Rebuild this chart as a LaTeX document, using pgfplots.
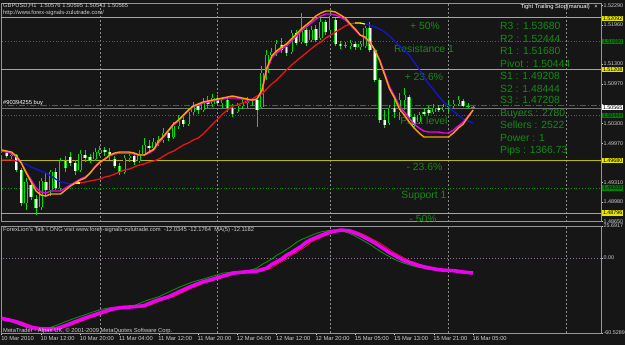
\documentclass[border=0pt]{standalone}
\usepackage{fontspec}
\setmainfont{Liberation Sans}
\usepackage{pgfplots}
\usepackage{pgfplotstable}
\pgfplotsset{compat=1.18}
\definecolor{bg}{RGB}{22,22,22}
\definecolor{framec}{RGB}{150,150,150}
\definecolor{gridc}{RGB}{140,140,140}
\definecolor{tickc}{RGB}{205,205,205}
\definecolor{cndl}{RGB}{0,225,0}
\definecolor{lvl}{RGB}{185,185,10}
\definecolor{lvlbox}{RGB}{230,230,0}
\definecolor{txtg}{RGB}{20,140,20}
\definecolor{dotg}{RGB}{0,150,0}
\definecolor{maor}{RGB}{255,160,0}
\definecolor{mamg}{RGB}{240,0,240}
\definecolor{mard}{RGB}{235,20,20}
\definecolor{mabl}{RGB}{20,20,210}
\definecolor{mayl}{RGB}{255,255,0}
\definecolor{subg}{RGB}{0,150,0}
\definecolor{zeroc}{RGB}{140,115,150}
\definecolor{boxg}{RGB}{0,128,0}
\newcommand\tf{\fontsize{5.8}{6.5}\selectfont}
\newcommand\smf{\fontsize{5.4}{6}\selectfont}
\newcommand\lf{\fontsize{10.4}{12}\selectfont}
\tikzset{lbl/.style={font=\lf, text=txtg, inner sep=0pt, text height=7.5bp, text depth=0bp}}

\pgfplotstableread{
i o h l c
0 1.49771 1.49838 1.49737 1.49804
1 1.49804 1.49838 1.49720 1.49754
2 1.49754 1.49804 1.49703 1.49771
3 1.49771 1.49788 1.49485 1.49519
4 1.49519 1.49552 1.48913 1.48963
5 1.48963 1.49384 1.48845 1.49317
6 1.49266 1.49300 1.49014 1.49064
7 1.49031 1.49098 1.48761 1.48879
8 1.48896 1.49384 1.48845 1.49334
9 1.49317 1.49468 1.49064 1.49182
10 1.49182 1.49519 1.49081 1.49485
11 1.49485 1.49552 1.49182 1.49216
12 1.49216 1.49720 1.49182 1.49670
13 1.49670 1.49754 1.49485 1.49552
14 1.49737 1.49821 1.49586 1.49636
15 1.49636 1.49687 1.49434 1.49502
16 1.49519 1.49855 1.49485 1.49788
17 1.49771 1.49855 1.49653 1.49720
18 1.49737 1.49788 1.49636 1.49687
19 1.49703 1.49888 1.49670 1.49821
20 1.49804 1.49922 1.49754 1.49855
21 1.49855 1.49905 1.49754 1.49821
22 1.49821 1.49888 1.49687 1.49754
23 1.49703 1.49754 1.49552 1.49586
24 1.49586 1.49636 1.49434 1.49485
25 1.49485 1.49771 1.49451 1.49720
26 1.49720 1.49821 1.49653 1.49754
27 1.49754 1.49788 1.49603 1.49653
28 1.49670 1.49855 1.49636 1.49788
29 1.49788 1.50057 1.49754 1.49939
30 1.49922 1.50023 1.49821 1.49888
31 1.49888 1.50057 1.49855 1.49989
32 1.49989 1.50090 1.49922 1.50023
33 1.50023 1.50225 1.49973 1.50141
34 1.50141 1.50191 1.50006 1.50057
35 1.50074 1.50326 1.50040 1.50259
36 1.50259 1.50444 1.50208 1.50360
37 1.50360 1.50410 1.50242 1.50292
38 1.50292 1.50562 1.50259 1.50495
39 1.50495 1.50663 1.50444 1.50595
40 1.50595 1.50646 1.50461 1.50528
41 1.50528 1.50730 1.50495 1.50663
42 1.50663 1.50764 1.50562 1.50629
43 1.50629 1.50797 1.50579 1.50730
44 1.50730 1.50781 1.50595 1.50646
45 1.50646 1.50747 1.50562 1.50696
46 1.50696 1.50747 1.50495 1.50562
47 1.50562 1.50629 1.50410 1.50461
48 1.50495 1.50646 1.50478 1.50595
49 1.50595 1.50696 1.50545 1.50646
50 1.50646 1.50747 1.50562 1.50680
51 1.50680 1.50730 1.50595 1.50696
52 1.50696 1.50730 1.50242 1.50528
53 1.50579 1.51269 1.50545 1.51151
54 1.51151 1.51538 1.51033 1.51454
55 1.51454 1.51571 1.51403 1.51504
56 1.51487 1.51706 1.51437 1.51639
57 1.51622 1.51740 1.51487 1.51538
58 1.51588 1.51639 1.51437 1.51487
59 1.51504 1.51874 1.51471 1.51824
60 1.51824 1.51874 1.51622 1.51656
61 1.51672 1.52160 1.51639 1.51874
62 1.51874 1.51908 1.51605 1.51656
63 1.51706 1.51942 1.51672 1.51874
64 1.51891 1.51958 1.51672 1.51706
65 1.51740 1.52076 1.51706 1.52009
66 1.52009 1.52043 1.51790 1.51841
67 1.51874 1.52194 1.51841 1.52110
68 1.52043 1.52076 1.51605 1.51639
69 1.51639 1.51689 1.51555 1.51605
70 1.51622 1.51672 1.51571 1.51622
71 1.51605 1.51706 1.51555 1.51656
72 1.51639 1.51672 1.51538 1.51588
73 1.51588 1.51689 1.51538 1.51639
74 1.51605 1.51942 1.51571 1.51908
75 1.51908 1.52009 1.51504 1.51538
76 1.51538 1.51571 1.50999 1.51033
77 1.51033 1.51067 1.50309 1.50360
78 1.50360 1.50528 1.50225 1.50276
79 1.50309 1.50612 1.50276 1.50562
80 1.50562 1.50781 1.50393 1.50495
81 1.50495 1.50814 1.50360 1.50696
82 1.50696 1.50898 1.50528 1.50781
83 1.50747 1.50781 1.50377 1.50410
84 1.50410 1.50461 1.50242 1.50276
85 1.50326 1.50495 1.50292 1.50444
86 1.50495 1.50562 1.50427 1.50461
87 1.50528 1.50595 1.50444 1.50478
88 1.50495 1.50629 1.50461 1.50562
89 1.50562 1.50612 1.50495 1.50528
90 1.50528 1.50629 1.50495 1.50579
91 1.50579 1.50696 1.50495 1.50595
92 1.50595 1.50696 1.50562 1.50629
93 1.50629 1.50764 1.50595 1.50696
94 1.50680 1.50713 1.50579 1.50595
95 1.50595 1.50646 1.50562 1.50595
96 1.50576 1.50595 1.50543 1.50565
}\candles

\pgfplotstableread{
i f m s
0 1.49855 1.49838 1.49687
1 1.49838 1.49821 1.49687
2 1.49821 1.49804 1.49687
3 1.49754 1.49737 1.49670
4 1.49636 1.49636 1.49653
5 1.49468 1.49485 1.49619
6 1.49317 1.49350 1.49569
7 1.49165 1.49216 1.49535
8 1.49098 1.49148 1.49502
9 1.49081 1.49132 1.49468
10 1.49115 1.49165 1.49418
11 1.49115 1.49165 1.49367
12 1.49115 1.49165 1.49317
13 1.49182 1.49216 1.49300
14 1.49249 1.49266 1.49283
15 1.49300 1.49317 1.49300
16 1.49350 1.49367 1.49300
17 1.49384 1.49401 1.49317
18 1.49468 1.49468 1.49334
19 1.49569 1.49569 1.49350
20 1.49653 1.49636 1.49367
21 1.49703 1.49703 1.49401
22 1.49771 1.49754 1.49418
23 1.49804 1.49788 1.49451
24 1.49821 1.49804 1.49485
25 1.49821 1.49804 1.49519
26 1.49821 1.49804 1.49535
27 1.49804 1.49788 1.49569
28 1.49771 1.49771 1.49603
29 1.49771 1.49771 1.49619
30 1.49821 1.49804 1.49653
31 1.49872 1.49855 1.49670
32 1.50006 1.49973 1.49703
33 1.50090 1.50074 1.49754
34 1.50191 1.50174 1.49804
35 1.50292 1.50276 1.49838
36 1.50360 1.50343 1.49888
37 1.50444 1.50427 1.49939
38 1.50528 1.50511 1.49973
39 1.50595 1.50579 1.50023
40 1.50629 1.50612 1.50057
41 1.50663 1.50646 1.50124
42 1.50680 1.50663 1.50208
43 1.50696 1.50680 1.50292
44 1.50713 1.50696 1.50377
45 1.50730 1.50713 1.50461
46 1.50747 1.50730 1.50528
47 1.50764 1.50730 1.50595
48 1.50747 1.50730 1.50612
49 1.50730 1.50713 1.50646
50 1.50713 1.50696 1.50663
51 1.50696 1.50696 1.50713
52 1.50713 1.50713 1.50764
53 1.50865 1.50848 1.50797
54 1.51235 1.51201 1.50882
55 1.51437 1.51403 1.50966
56 1.51521 1.51487 1.51033
57 1.51588 1.51555 1.51117
58 1.51639 1.51605 1.51201
59 1.51723 1.51689 1.51285
60 1.51807 1.51773 1.51353
61 1.51891 1.51858 1.51420
62 1.51958 1.51925 1.51487
63 1.52026 1.51992 1.51555
64 1.52110 1.52059 1.51622
65 1.52160 1.52110 1.51672
66 1.52194 1.52144 1.51740
67 1.52194 1.52144 1.51790
68 1.52177 1.52127 1.51841
69 1.52127 1.52093 1.51891
70 1.52076 1.52043 1.51942
71 1.51975 1.51958 1.51975
72 1.51891 1.51874 1.51992
73 1.51790 1.51790 1.51992
74 1.51757 1.51740 1.51975
75 1.51672 1.51656 1.51958
76 1.51538 1.51538 1.51925
77 1.51353 1.51370 1.51891
78 1.51117 1.51151 1.51841
79 1.50882 1.50915 1.51773
80 1.50730 1.50764 1.51689
81 1.50545 1.50595 1.51605
82 1.50444 1.50495 1.51538
83 1.50326 1.50393 1.51454
84 1.50225 1.50292 1.51336
85 1.50141 1.50225 1.51218
86 1.50074 1.50174 1.51084
87 1.50074 1.50158 1.50966
88 1.50074 1.50158 1.50865
89 1.50074 1.50158 1.50764
90 1.50074 1.50141 1.50663
91 1.50074 1.50141 1.50595
92 1.50141 1.50191 1.50511
93 1.50225 1.50259 1.50444
94 1.50292 1.50326 1.50377
95 1.50410 1.50427 1.50343
96 1.50528 1.50528 1.50309
}\lines

\pgfplotstableread{
i m g r
0 -48.7 -49.6 -48.0
1 -49.6 -50.5 -48.7
2 -50.5 -51.5 -49.6
3 -51.5 -53.0 -50.5
4 -53.0 -54.6 -51.5
5 -54.6 -55.9 -53.0
6 -55.9 -56.9 -54.6
7 -56.6 -57.8 -55.9
8 -57.1 -58.3 -56.6
9 -57.3 -58.0 -57.1
10 -57.3 -55.9 -57.3
11 -57.1 -54.5 -57.3
12 -55.9 -53.0 -57.1
13 -54.5 -51.4 -55.9
14 -53.0 -49.9 -54.5
15 -51.4 -48.4 -53.0
16 -49.9 -47.1 -51.4
17 -48.4 -45.8 -49.9
18 -47.1 -44.4 -48.4
19 -45.8 -43.1 -47.1
20 -44.4 -41.8 -45.8
21 -43.1 -40.9 -44.4
22 -41.8 -40.2 -43.1
23 -40.9 -39.8 -41.8
24 -40.2 -39.6 -40.9
25 -39.8 -39.3 -40.2
26 -39.6 -39.0 -39.8
27 -39.3 -38.5 -39.6
28 -39.0 -36.8 -39.3
29 -38.5 -35.1 -39.0
30 -36.8 -33.7 -38.5
31 -35.1 -32.5 -36.8
32 -33.7 -31.3 -35.1
33 -32.5 -29.4 -33.7
34 -31.3 -27.6 -32.5
35 -29.4 -25.7 -31.3
36 -27.6 -23.9 -29.4
37 -25.7 -22.3 -27.6
38 -23.9 -20.7 -25.7
39 -22.3 -19.3 -23.9
40 -20.7 -18.2 -22.3
41 -19.3 -17.1 -20.7
42 -18.2 -15.9 -19.3
43 -17.1 -14.7 -18.2
44 -15.9 -13.6 -17.1
45 -14.7 -12.3 -15.9
46 -13.6 -11.9 -14.7
47 -12.3 -11.5 -13.6
48 -11.9 -11.2 -12.3
49 -11.5 -10.9 -11.9
50 -11.2 -10.6 -11.5
51 -10.9 -9.4 -11.2
52 -10.6 -8.2 -10.9
53 -9.4 -5.3 -10.6
54 -8.2 -3.2 -9.4
55 -5.3 -1.0 -8.2
56 -3.2 2.1 -5.3
57 -1.0 4.2 -3.2
58 2.1 6.8 -1.0
59 4.2 9.3 2.1
60 6.8 12.5 4.2
61 9.3 14.7 6.8
62 12.5 16.3 9.3
63 14.7 18.0 12.5
64 16.3 19.6 14.7
65 18.0 20.9 16.3
66 19.6 21.6 18.0
67 20.9 22.4 19.6
68 21.6 22.6 20.9
69 22.4 22.0 21.6
70 22.1 21.0 22.4
71 21.6 19.5 22.1
72 20.0 17.6 21.6
73 18.4 15.4 20.0
74 16.3 13.1 18.4
75 14.2 10.8 16.3
76 12.1 8.2 14.2
77 9.5 5.6 12.1
78 6.9 3.1 9.5
79 4.2 1.0 6.9
80 2.1 -1.2 4.2
81 -0.1 -2.9 2.1
82 -2.2 -4.3 -0.1
83 -3.6 -5.6 -2.2
84 -4.9 -6.8 -3.6
85 -6.3 -7.6 -4.9
86 -7.2 -8.4 -6.3
87 -8.0 -9.2 -7.2
88 -8.8 -9.7 -8.0
89 -9.5 -10.0 -8.8
90 -9.9 -10.2 -9.5
91 -10.1 -10.4 -9.9
92 -10.3 -10.7 -10.1
93 -10.8 -11.2 -10.3
94 -11.4 -11.7 -10.8
95 -11.8 -11.95 -11.4
96 -12.1182 -12.0345 -12.1764
}\subdata

\begin{document}
\begin{tikzpicture}
\useasboundingbox (0,0) rectangle (625bp,345bp);
\fill[bg] (0,0) rectangle (625bp,345bp);

% ---------------- main price window ----------------
\begin{axis}[
  at={(1bp,123.36bp)}, anchor=south west,
  width=600bp, height=218.64bp, scale only axis,
  xmin=-0.14, xmax=122.06, ymin=1.4865, ymax=1.52329,
  axis line style={draw=framec, line width=0.8bp},
  scaled y ticks=false,
  xtick={20,44,67,91,115}, xticklabels={}, xmajorgrids, xtick style={draw=none},
  major grid style={draw=gridc, line width=0.6bp, dash pattern=on 2bp off 2bp},
  ytick={1.4865,1.4898,1.4931,1.4997,1.5030,1.5063,1.5097,1.5130,1.5196,1.5229},
  yticklabels={1.48650,1.48980,1.49310,1.49970,1.50300,{},1.50970,1.51300,1.51960,1.52290},
  ytick pos=right, yticklabel pos=right, tick align=outside, major tick length=2bp,
  ytick style={draw=tickc, line width=0.5bp},
  yticklabel style={font=\smf, text=tickc, anchor=west, inner sep=0pt, xshift=0.4bp},
]
% level lines
\addplot[lvl, line width=0.9bp] coordinates {(-1,1.52092) (123,1.52092)};
\addplot[lvl, line width=0.9bp] coordinates {(-1,1.51208) (123,1.51208)};
\addplot[lvl, line width=0.9bp] coordinates {(-1,1.49680) (123,1.49680)};
\addplot[lvl, line width=0.9bp] coordinates {(-1,1.48796) (123,1.48796)};
\addplot[dotg, line width=0.6bp, dash pattern=on 0.8bp off 2bp] coordinates {(-1,1.51680) (123,1.51680)};
\addplot[dotg, line width=0.6bp, dash pattern=on 0.8bp off 2bp] coordinates {(-1,1.50444) (123,1.50444)};
\addplot[dotg, line width=0.6bp, dash pattern=on 0.8bp off 2bp] coordinates {(-1,1.49208) (123,1.49208)};
\addplot[dotg, line width=0.7bp, dash pattern=on 6bp off 2bp on 1bp off 2bp] coordinates {(-1,1.50605) (123,1.50605)};
\addplot[gridc!120, line width=0.6bp] coordinates {(-1,1.50565) (123,1.50565)};
% level texts (behind candles)
\node[lbl] at (axis cs:86.2,1.51947) {+ 50\%};
\node[lbl] at (axis cs:86.0,1.51566) {Resistance 1};
\node[lbl] at (axis cs:86.0,1.51089) {+ 23.6\%};
\node[lbl] at (axis cs:86.0,1.50348) {Pivot level};
\node[lbl] at (axis cs:86.1,1.49574) {- 23.6\%};
\node[lbl] at (axis cs:86.0,1.49098) {Support 1};
\node[lbl] at (axis cs:85.8,1.48706) {- 50\%};
% candles: wicks, outlines, bodies
\addplot[cndl, line width=0.9bp, quiver={u=0, v=\thisrow{h}-\thisrow{l}}]
  table[x=i, y=l] \candles;
\addplot[cndl, line width=3.5bp, quiver={u=0, v={abs(\thisrow{o}-\thisrow{c})+0.00012}}]
  table[x=i, y expr={min(\thisrow{o},\thisrow{c})-0.00006}] \candles;
\addplot[bg, line width=1.9bp, restrict expr to domain={\thisrow{c}-\thisrow{o}}{0.00013:1},
  quiver={u=0, v={\thisrow{c}-\thisrow{o}-0.00012}}]
  table[x=i, y expr={\thisrow{o}+0.00006}] \candles;
\addplot[white, line width=1.9bp, restrict expr to domain={\thisrow{o}-\thisrow{c}}{0.00013:1},
  quiver={u=0, v={\thisrow{o}-\thisrow{c}-0.00012}}]
  table[x=i, y expr={\thisrow{c}+0.00006}] \candles;
% slow line, coloured by direction
\addplot[mard, line width=1.3bp, restrict x to domain=0:3] table[x=i,y=s] \lines;
\addplot[mabl, line width=1.3bp, restrict x to domain=3:15] table[x=i,y=s] \lines;
\addplot[mayl, line width=1.3bp, restrict x to domain=15:16] table[x=i,y=s] \lines;
\addplot[mard, line width=1.3bp, restrict x to domain=16:72] table[x=i,y=s] \lines;
\addplot[mayl, line width=1.3bp, restrict x to domain=72:74] table[x=i,y=s] \lines;
\addplot[mabl, line width=1.3bp, restrict x to domain=74:96] table[x=i,y=s] \lines;
% fast lines
\addplot[mamg, line width=1.4bp] table[x=i,y=m] \lines;
\addplot[maor, line width=1.4bp] table[x=i,y=f] \lines;
\end{axis}

% ---------------- indicator window ----------------
\begin{axis}[
  at={(1bp,12bp)}, anchor=south west,
  width=600bp, height=107bp, scale only axis,
  xmin=-0.14, xmax=122.06, ymin=-60.5289, ymax=25.6917,
  axis line style={draw=framec, line width=0.8bp},
  scaled y ticks=false,
  xtick={0,8,...,96},
  xticklabels={10 Mar 2010,10 Mar 12:00,10 Mar 20:00,11 Mar 04:00,11 Mar 12:00,11 Mar 20:00,12 Mar 04:00,12 Mar 12:00,12 Mar 20:00,15 Mar 05:00,15 Mar 13:00,15 Mar 21:00,16 Mar 05:00},
  xtick pos=bottom, tick align=outside, major tick length=2bp,
  xtick style={draw=tickc, line width=0.5bp},
  xticklabel style={font=\tf, text=tickc, anchor=north west, inner sep=0pt, yshift=-1.2bp, xshift=-0.6bp},
  extra x ticks={20,44,67,91,115}, extra x tick labels={},
  extra x tick style={grid=major, major tick length=0pt},
  major grid style={draw=gridc, line width=0.6bp, dash pattern=on 2bp off 2bp},
  ytick={-60.5289,0,25.6917}, yticklabels={-60.5289,0.00,25.6917},
  ytick pos=right, yticklabel pos=right,
  ytick style={draw=tickc, line width=0.5bp},
  yticklabel style={font=\smf, text=tickc, anchor=west, inner sep=0pt, xshift=0.4bp},
]
\addplot[zeroc, line width=0.6bp, dash pattern=on 1bp off 2bp] coordinates {(-1,0) (123,0)};
\addplot[mard, line width=0.7bp] table[x=i,y=r] \subdata;
\addplot[subg, line width=0.9bp] table[x=i,y=g] \subdata;
\addplot[mamg, line width=3.6bp] table[x=i,y=m] \subdata;
\end{axis}

% ---------------- texts ----------------
\begin{scope}[every node/.style={inner sep=0pt, font=\tf}]
\node[anchor=west, text=tickc] at (3bp,339bp) {GBPUSD,H1\ \ 1.50576 1.50595 1.50543 1.50565};
\node[anchor=west, text=tickc] at (3bp,331.7bp) {http://www.forex-signals-zulutrade.com/};
\node[anchor=east, text=white] at (590bp,338.3bp) {Tight Trailing Stop(manual)};
\node[anchor=center, text=white] at (596bp,338.3bp) {×};
\node[anchor=west, text=white] at (3bp,242bp) {\#90394255 buy};
\node[anchor=west, text=tickc] at (3bp,115bp) {ForexLion's Talk LONG visit www.forex-signals-zulutrade.com\ \ -12.0345 -12.1764\ \ MA(5) -12.1182};
\node[anchor=west, text=tickc] at (3bp,14.3bp) {MetaTrader - Alpari UK, \textcopyright\ 2001-2009 MetaQuotes Software Corp.};
\end{scope}

\begin{scope}[every node/.style={anchor=west, font=\lf, text=txtg, inner sep=0pt, text height=7.5bp, text depth=0bp}]
\node at (500bp,319bp) {R3 : 1.53680};
\node at (500bp,306.7bp) {R2 : 1.52444};
\node at (500bp,294bp) {R1 : 1.51680};
\node at (500bp,281.7bp) {Pivot : 1.50444};
\node at (500bp,269.3bp) {S1 : 1.49208};
\node at (500bp,256.7bp) {S2 : 1.48444};
\node at (500bp,245bp) {S3 : 1.47208};
\node at (500bp,232.3bp) {Buyers : 2780};
\node at (500bp,220bp) {Sellers : 2522};
\node at (500bp,207.7bp) {Power : 1};
\node at (500bp,195.7bp) {Pips : 1366.73};
\end{scope}

\begin{scope}[every node/.style={anchor=west, font=\smf, text=black, inner xsep=0.8bp, inner ysep=0.6bp, text height=4bp, text depth=0bp}]
\node[fill=lvlbox] at (602bp,326.7bp) {1.52092};
\node[fill=boxg] at (602bp,303.4bp) {1.51680};
\node[fill=lvlbox] at (602bp,275.3bp) {1.51208};
\node[fill=white] at (602bp,237.5bp) {1.50565};
\node[fill=boxg] at (602bp,229.7bp) {1.50444};
\node[fill=lvlbox] at (602bp,184.6bp) {1.49680};
\node[fill=boxg] at (602bp,157bp) {1.49208};
\node[fill=lvlbox] at (602bp,132bp) {1.48796};
\end{scope}
\end{tikzpicture}
\end{document}
